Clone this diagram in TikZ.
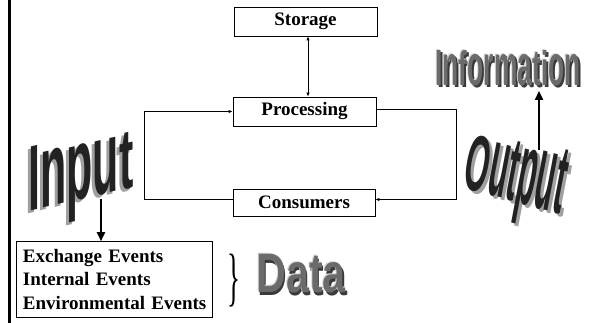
\documentclass[tikz,border=0pt]{standalone}
\usepackage{fontspec}
\usepackage{graphicx}
\setmainfont{Liberation Serif}
\newfontfamily\waf{Liberation Sans}
\usetikzlibrary{arrows.meta}
\def\wk{0.4}
\newcommand\wl[2]{\resizebox{\wk\width}{#1pt}{#2}}
\newcommand\inputword{{\waf\bfseries\fontsize{100}{100}\selectfont\def\wk{0.43}%
\wl{64}{I}\wl{56.5}{n}\wl{55}{p}\wl{54}{u}\wl{56}{t}}}
\newcommand\outputword{{\waf\bfseries\fontsize{100}{100}\selectfont\def\wk{0.3}%
\wl{57}{O}\wl{54}{u}\wl{61}{t}\wl{57}{p}\wl{59}{u}\wl{66}{t}}}
\newcommand\infoword{{\waf\bfseries\fontsize{100}{100}\selectfont\def\wk{0.264}%
\wl{35}{I}\wl{31}{n}\wl{35}{f}\wl{31}{o}\wl{31}{r}\wl{31}{m}\wl{31}{a}\wl{33}{t}\wl{35}{i}\wl{31}{o}\wl{31}{n}}}
\newcommand\dataword{{\waf\bfseries\scalebox{0.78}[1.05]{\fontsize{53}{53}\selectfont Data}}}
\definecolor{wdark}{HTML}{222222}
\definecolor{wshade}{HTML}{A0A0A0}
\definecolor{wgray}{HTML}{6B6B6B}
\definecolor{wlight}{HTML}{D8D8D8}
\definecolor{wdeep}{HTML}{3A3A3A}
\tikzset{
  procbox/.style={draw, line width=0.8pt, inner sep=0pt, font=\bfseries\fontsize{19}{23.3}\selectfont},
  la/.style={line width=0.9pt, -{Latex[length=4pt,width=3.5pt]}},
  lab/.style={line width=0.9pt, {Latex[length=4pt,width=3.5pt]}-{Latex[length=4pt,width=3.5pt]}},
  bigar/.style={line width=2.2pt, -{Triangle[length=9pt,width=8pt]}},
  wa/.style={inner sep=0pt},
  inpersp/.style={yslant=0.23},
  outpersp/.style={yslant=-0.27, xslant=0.18}
}
\begin{document}
\begin{tikzpicture}[x=1pt,y=-1pt]
\useasboundingbox (0,0) rectangle (595,323);
% page rule
\coordinate (rt) at (9.5,0);
\coordinate (rb) at (9.5,323);
\draw[line width=2.5pt] (rt) -- (rb);
% boxes
\node[procbox, minimum width=143pt, minimum height=29pt] (stor) at (305.5,21.5) {Storage};
\node[procbox, minimum width=143pt, minimum height=29pt] (proc) at (304.5,111.5) {Processing};
\node[procbox, minimum width=142pt, minimum height=27pt] (cons) at (304,202.5) {Consumers};
\node[procbox, minimum width=196pt, minimum height=75.3pt, text width=183.4pt, align=left] (ev) at (114.7,279.3)
  {Exchange Events\\Internal Events\\Environmental Events};
% connectors
\coordinate (sx) at (308,0);
\draw[lab] (sx |- stor.south) -- (sx |- proc.north);
\draw[la] ([yshift=3pt]cons.west) -- ++(-88,0) |- (proc.west);
\draw[la] ([yshift=2pt]proc.east) -- ++(80,0) |- ([yshift=3pt]cons.east);
% brace
\node[inner sep=0pt] (brace) at (234,281) {\scalebox{0.42}[1]{\fontsize{64}{64}\selectfont\}}};
% Data
\node[wa, text=wdeep] at (302.5,276.5) {\dataword};
\node[wa, text=wlight] at (300,273) {\dataword};
\node[wa, text=wgray] (data) at (301,274) {\dataword};
% Information
\node[wa, text=wdeep] at (510,70) {\infoword};
\node[wa, text=wlight] at (507,67) {\infoword};
\node[wa, text=wgray] (info) at (508,68) {\infoword};
% Input
\node[wa, inpersp, text=wshade] at (78,181) {\inputword};
\node[wa, inpersp, text=wdark] (input) at (81,178) {\inputword};
% Output
\node[wa, outpersp, text=wshade] at (518,183) {\outputword};
\node[wa, outpersp, text=wdark] (output) at (515,180) {\outputword};
% big arrows
\coordinate (ia) at (101,199);
\draw[bigar] (ia) -- (ia |- ev.north);
\coordinate (oa) at (539,150);
\draw[bigar, shorten >=5pt] (oa) -- (oa |- info.south);
\end{tikzpicture}
\end{document}
